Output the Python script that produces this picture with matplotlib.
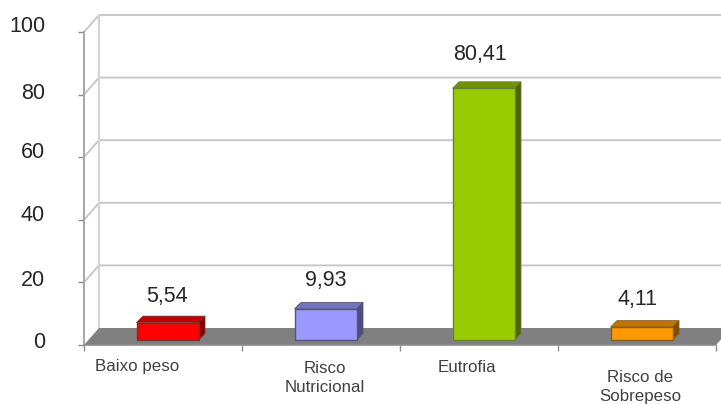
import matplotlib
matplotlib.use("Agg")
import matplotlib.pyplot as plt
from matplotlib.patches import Polygon

plt.rcParams["font.family"] = ["Liberation Sans", "DejaVu Sans"]

categories = ["Baixo peso", "Risco\nNutricional", "Eutrofia", "Risco de\nSobrepeso"]
values = [5.54, 9.93, 80.41, 4.11]
value_labels = ["5,54", "9,93", "80,41", "4,11"]
y_ticks = [0, 20, 40, 60, 80, 100]

FRONT = ["#ff0000", "#9999ff", "#99cc00", "#ff9900"]
TOP = ["#c00000", "#7373c0", "#6f9400", "#c07300"]
SIDE = ["#800000", "#4d4d80", "#4d6600", "#804d00"]
EDGE = ["#7a3030", "#55557a", "#66803a", "#80602a"]
TEXT = "#262626"
GRID = "#c4c4c4"

W, H = 721, 404
LEFT, RIGHT, BOTTOM, TOP_Y = 84, 716, 345, 32
fig = plt.figure(figsize=(W / 100, H / 100), dpi=100)
ax = fig.add_axes([LEFT / W, (H - BOTTOM) / H, (RIGHT - LEFT) / W, (BOTTOM - TOP_Y) / H])
ax.set_xlim(0, 4)
ax.set_ylim(0, 100)

# pixel -> data
ux = 4 / (RIGHT - LEFT)
uy = 100 / (BOTTOM - TOP_Y)
wall_dx, wall_dy = 15 * ux, 17 * uy
depth_dx, depth_dy = 6.5 * ux, 6.5 * uy
base_dx, base_dy = 4.5 * ux, 5 * uy
bar_w = 62 * ux

# back wall and gridlines
for t in y_ticks[1:]:
    ax.plot([0, wall_dx, 4.2], [t, t + wall_dy, t + wall_dy], color=GRID, lw=1.3,
            clip_on=False, zorder=1)
ax.plot([wall_dx, wall_dx], [wall_dy, 100 + wall_dy], color="#d4d4d4", lw=1.5,
        clip_on=False, zorder=1)

# floor
ax.add_patch(Polygon([(0, 0), (wall_dx, wall_dy), (4 + wall_dx, wall_dy), (4, 0)],
                     fc="#808080", ec="none", clip_on=False, zorder=2))

xs = [i + 0.5 + base_dx for i in range(4)]
ax.bar(xs, values, bar_w, bottom=base_dy, color=FRONT, edgecolor=EDGE, lw=1, zorder=4)
for i, (x, v) in enumerate(zip(xs, values)):
    l, r, t, b = x - bar_w / 2, x + bar_w / 2, v + base_dy, base_dy
    ax.add_patch(Polygon([(l, t), (l + depth_dx, t + depth_dy), (r + depth_dx, t + depth_dy), (r, t)],
                         fc=TOP[i], ec=EDGE[i], lw=0.6, zorder=3))
    ax.add_patch(Polygon([(r, b), (r + depth_dx, b + depth_dy), (r + depth_dx, t + depth_dy), (r, t)],
                         fc=SIDE[i], ec=EDGE[i], lw=0.6, zorder=3))

# value labels
label_shift = [(-1, 26), (0, 28), (-3, 34), (-4, 28)]
for x, v, s, (ox, oy) in zip(xs, values, value_labels, label_shift):
    ax.annotate(s, (x, v + base_dy), xytext=(ox * 0.72, oy * 0.72), textcoords="offset points",
                ha="center", va="center", fontsize=15.5, color=TEXT, annotation_clip=False)

# axes
for s in ("top", "right"):
    ax.spines[s].set_visible(False)
ax.spines["left"].set_color("#a6a6a6")
ax.spines["left"].set_linewidth(1.4)
ax.spines["bottom"].set_color("#8c8c8c")
ax.spines["bottom"].set_linewidth(1.2)
ax.patch.set_alpha(0)
ax.set_xticks(range(5))
ax.set_xticklabels([])
ax.set_yticks(y_ticks)
ax.set_yticklabels([])
ax.tick_params(axis="x", length=4, width=1, color="#8c8c8c")
ax.tick_params(axis="y", length=4.5, width=1, color="#8c8c8c")

tick_shift = [3, 2, 4, 5, 1, 6]
for t, oy in zip(y_ticks, tick_shift):
    ax.annotate(str(t), (0, t), xytext=(-39 * 0.72, oy * 0.72), textcoords="offset points",
                ha="right", va="center", fontsize=15.5, color=TEXT, annotation_clip=False)

# category labels
cat_xy = [(137, 366), (325, 378), (467, 368), (640, 387)]
for s, (px, py) in zip(categories, cat_xy):
    fig.text(px / W, 1 - py / H, s, ha="center", va="center", fontsize=12.2,
             color="#404040", linespacing=1.4)

fig.savefig("out.png", dpi=100)
